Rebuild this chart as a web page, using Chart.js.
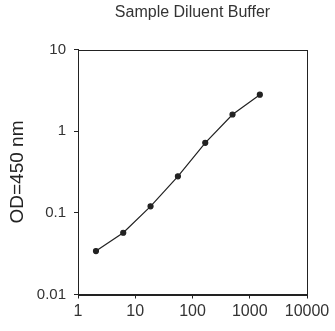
<!DOCTYPE html>
<html>
<head>
<meta charset="utf-8">
<script src="https://cdn.jsdelivr.net/npm/chart.js@4"></script>
<style>
  html, body { margin: 0; padding: 0; background: #fff; }
  canvas { display: block; }
</style>
</head>
<body>
<canvas id="chart" width="335" height="331"></canvas>
<script>
// Sample Diluent Buffer – standard curve (log/log)

const dilution = [2.06, 6.17, 18.5, 55.6, 167, 500, 1500];
const od450 = [0.034, 0.057, 0.12, 0.28, 0.72, 1.6, 2.8];
const xTicks = [1, 10, 100, 1000, 10000];
const yTicks = [0.01, 0.1, 1, 10];

const ink = '#222';
const labelColor = '#333';
const font = 'Liberation Sans, Arial, sans-serif';

// box round the plot area (top + right sides like the original)
const frame = {
  id: 'frame',
  afterDraw(chart) {
    const { ctx, chartArea: a } = chart;
    ctx.save();
    ctx.strokeStyle = ink;
    ctx.lineWidth = 1;
    ctx.strokeRect(Math.round(a.left) + 0.5, Math.round(a.top) + 0.5,
      Math.round(a.right - a.left), Math.round(a.bottom - a.top));
    ctx.restore();
  }
};

new Chart(document.getElementById('chart'), {
  type: 'line',
  data: {
    datasets: [{
      data: dilution.map((x, i) => ({ x, y: od450[i] })),
      borderColor: ink,
      backgroundColor: ink,
      borderWidth: 1.2,
      pointRadius: 2.5,
      pointHoverRadius: 2.5,
      tension: 0,
    }]
  },
  options: {
    responsive: false,
    animation: false,
    layout: { padding: { left: 0, right: 28, top: 0, bottom: 0 } },
    plugins: {
      legend: { display: false },
      tooltip: { enabled: false },
      title: {
        display: true,
        fullSize: false,
        text: 'Sample Diluent Buffer',
        color: labelColor,
        font: { family: font, size: 16, weight: 'normal' },
        padding: { top: 3, bottom: 27.3 },
      }
    },
    scales: {
      x: {
        type: 'logarithmic',
        min: 1, max: 10000,
        afterBuildTicks: s => { s.ticks = xTicks.map(v => ({ value: v })); },
        afterFit: s => { s.height = 36.5; },
        border: { color: ink, width: 1 },
        grid: { drawOnChartArea: false, color: ink, tickLength: 4 },
        ticks: {
          color: labelColor,
          padding: 3,
          maxRotation: 0,
          font: { family: font, size: 16 },
          callback: v => String(v),
        }
      },
      y: {
        type: 'logarithmic',
        min: 0.01, max: 10,
        afterBuildTicks: s => { s.ticks = yTicks.map(v => ({ value: v })); },
        afterFit: s => { s.width = 78; },
        border: { color: ink, width: 1 },
        grid: { drawOnChartArea: false, color: ink, tickLength: 4 },
        ticks: {
          color: labelColor,
          padding: 8,
          font: { family: font, size: 15 },
          callback: v => String(v),
        },
        title: {
          display: true,
          text: 'OD=450 nm',
          color: '#222',
          font: { family: font, size: 19 },
          padding: { top: 6, bottom: 0 },
        }
      }
    }
  },
  plugins: [frame]
});
</script>
</body>
</html>
